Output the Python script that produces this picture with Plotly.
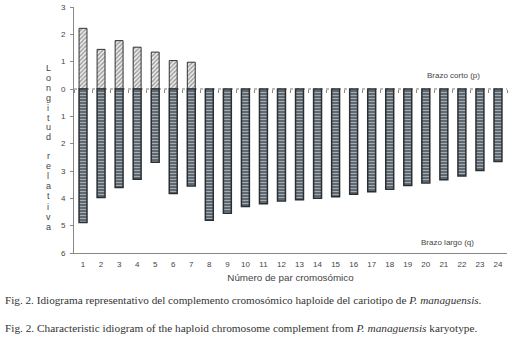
import plotly.graph_objects as go

pairs = [str(i) for i in range(1, 25)]
short_arm = [2.22, 1.45, 1.77, 1.53, 1.35, 1.04, 0.98] + [None] * 17
long_arm = [4.88, 3.97, 3.6, 3.3, 2.68, 3.82, 3.55, 4.8, 4.55, 4.3, 4.2, 4.1,
            4.05, 4.0, 3.94, 3.85, 3.76, 3.67, 3.53, 3.44, 3.32, 3.18, 2.98, 2.65]
y_ticks = [3, 2, 1, 0, -1, -2, -3, -4, -5, -6]
y_ticktext = [str(abs(v)) for v in y_ticks]
boundary_ticks = [i + 0.5 for i in range(-1, 24)]
title_word1 = "Longitud"
title_word2 = "relativa"

neg_long = [-v for v in long_arm]

W, H = 513, 337
ML, MR, MT, MB = 74, 6, 7, 84
PW, PH = W - ML - MR, H - MT - MB


def px(x):
    return (x - ML) / PW


def py(y):
    return (H - MB - y) / PH


fig = go.Figure()
fig.add_trace(go.Bar(
    x=pairs, y=short_arm, width=0.44,
    marker=dict(color="white", line=dict(color="#333333", width=1),
                pattern=dict(shape="/", fgcolor="#444444", bgcolor="#eeeeee", size=3, solidity=0.45)),
))
fig.add_trace(go.Bar(
    x=pairs, y=neg_long, width=0.44,
    marker=dict(color="#56616a", line=dict(color="#2a2f33", width=1.5),
                pattern=dict(shape="-", fgcolor="#f4f6f7", bgcolor="#56616a", size=3, solidity=0.4)),
))

fig.add_shape(type="line", xref="paper", x0=0, x1=1, yref="y", y0=0, y1=0,
              line=dict(color="#777777", width=1, dash="dot"), layer="below")

grey = "#444444"
fig.add_annotation(text="Brazo corto (p)", xref="paper", yref="y", x=px(453), y=0.49,
                   xanchor="center", yanchor="middle",
                   showarrow=False, font=dict(size=8, color=grey, family="Arial"))
fig.add_annotation(text="Brazo largo (q)", xref="paper", yref="y", x=px(447), y=-5.62,
                   xanchor="center", yanchor="middle",
                   showarrow=False, font=dict(size=8, color=grey, family="Arial"))

for i, ch in enumerate(title_word1):
    fig.add_annotation(text=ch, xref="paper", yref="paper", x=px(48), y=py(68 + 9.9 * i),
                       xanchor="center", yanchor="middle", showarrow=False,
                       font=dict(size=9, color=grey, family="Arial"))
for i, ch in enumerate(title_word2):
    fig.add_annotation(text=ch, xref="paper", yref="paper", x=px(48), y=py(156 + 10.1 * i),
                       xanchor="center", yanchor="middle", showarrow=False,
                       font=dict(size=9, color=grey, family="Arial"))

fig.add_annotation(text="Fig. 2. Idiograma representativo del complemento cromosómico haploide del cariotipo de <i>P. managuensis</i>.",
                   xref="paper", yref="paper", x=px(3), y=py(300), xanchor="left", yanchor="middle",
                   showarrow=False, font=dict(size=11.2, color="#333333", family="Liberation Serif"))
fig.add_annotation(text="Fig. 2. Characteristic idiogram of the haploid chromosome complement from <i>P. managuensis</i> karyotype.",
                   xref="paper", yref="paper", x=px(3), y=py(328), xanchor="left", yanchor="middle",
                   showarrow=False, font=dict(size=11.3, color="#333333", family="Liberation Serif"))

fig.update_layout(
    width=W, height=H,
    margin=dict(l=ML, r=MR, t=MT, b=MB, autoexpand=False),
    paper_bgcolor="white", plot_bgcolor="white",
    barmode="relative", showlegend=False,
    font=dict(family="Arial", size=8, color=grey),
    xaxis=dict(showline=True, linecolor="#888888", ticks="", tickfont=dict(size=8, color=grey),
               ticklabelstandoff=3,
               title=dict(text="Número de par cromosómico", font=dict(size=9.8, color=grey), standoff=6),
               range=[-0.5, 23.5], automargin=False),
    xaxis2=dict(overlaying="x", anchor="free", position=6/9, range=[-0.5, 23.5],
                tickvals=boundary_ticks, ticks="outside", ticklen=3, tickcolor="#888888",
                showticklabels=False, showline=False, showgrid=False, zeroline=False, automargin=False),
    yaxis=dict(range=[-6, 3], tickvals=y_ticks, ticktext=y_ticktext, showline=True,
               linecolor="#888888", ticks="outside", ticklen=3, tickcolor="#888888",
               ticklabelstandoff=3,
               showgrid=False, zeroline=False, tickfont=dict(size=8, color=grey), automargin=False),
)
fig.add_trace(go.Scatter(x=[None], y=[None], xaxis="x2", showlegend=False, hoverinfo="skip"))

fig.write_html("out.html", config={"displayModeBar": False},
               post_script="document.body.style.margin='0';")
